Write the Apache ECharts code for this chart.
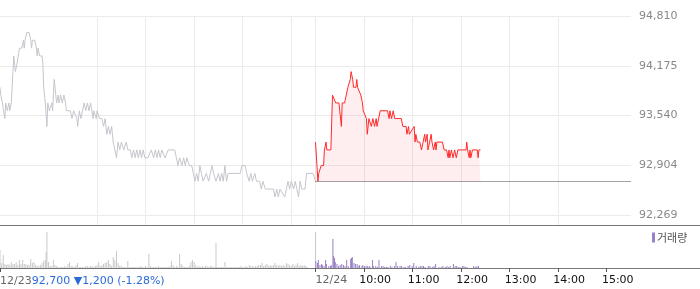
<!DOCTYPE html>
<html><head><meta charset="utf-8">
<script src="https://cdn.jsdelivr.net/npm/echarts@6/dist/echarts.min.js"></script>
<style>html,body{margin:0;padding:0;background:#fff}#c{width:700px;height:289px}</style>
</head><body><div id="c"></div>
<script>
// minutes after 09:00, price (KRW)
const prevLine = [[0,93900],[1,93800],[3,93700],[6,93500],[7,93700],[9,93600],[11,93700],[12,93600],[14,93700],[16,94100],[17,94300],[19,94100],[21,94200],[23,94200],[24,94400],[27,94400],[29,94500],[30,94400],[31,94500],[33,94600],[36,94600],[38,94500],[39,94400],[40,94500],[43,94500],[45,94400],[46,94300],[47,94400],[49,94300],[52,94300],[53,94200],[54,93900],[56,93700],[58,93400],[59,93700],[61,93600],[64,93700],[65,93600],[67,94000],[69,93800],[70,93700],[72,93800],[73,93700],[75,93800],[77,93700],[79,93800],[81,93700],[82,93600],[87,93600],[89,93500],[91,93600],[93,93600],[95,93500],[96,93400],[98,93600],[100,93500],[102,93600],[104,93700],[106,93600],[108,93700],[110,93600],[112,93700],[115,93500],[116,93600],[119,93500],[120,93600],[123,93500],[126,93500],[128,93400],[130,93500],[132,93300],[134,93400],[136,93300],[138,93400],[140,93200],[142,93200],[144,93000],[146,93200],[148,93100],[150,93200],[153,93100],[156,93200],[158,93100],[161,93100],[163,93000],[165,93100],[167,93000],[169,93100],[171,93000],[173,93100],[175,93000],[177,93100],[179,93000],[183,93000],[187,93100],[190,93000],[192,93100],[194,93000],[196,93100],[198,93000],[200,93100],[202,93100],[204,93000],[208,93100],[216,93100],[218,93000],[220,92900],[222,93000],[225,92900],[227,93000],[229,92900],[231,93000],[234,92900],[237,92900],[239,92800],[241,92700],[243,92800],[245,92700],[247,92900],[249,92800],[251,92700],[255,92800],[258,92700],[260,92800],[262,92900],[264,92800],[267,92700],[270,92800],[272,92700],[274,92800],[276,92700],[278,92900],[280,92700],[282,92800],[288,92800],[297,92800],[299,92900],[303,92900],[305,92800],[308,92700],[310,92800],[312,92700],[315,92800],[317,92700],[321,92700],[323,92600],[325,92700],[328,92600],[334,92600],[338,92600],[340,92500],[342,92600],[344,92500],[346,92600],[352,92500],[354,92600],[356,92700],[358,92600],[360,92700],[363,92600],[365,92700],[367,92600],[369,92500],[371,92700],[373,92600],[377,92600],[379,92800],[387,92800],[390,92700]];
const todayLine = [[0,93200],[3,92700],[4,92800],[7,92900],[10,92900],[11,93100],[13,93200],[14,93100],[19,93100],[21,93800],[23,93800],[25,93700],[29,93700],[30,93600],[32,93400],[33,93700],[36,93700],[38,93800],[40,93900],[41,93900],[43,94000],[44,94100],[45,94100],[46,94000],[47,93900],[50,93900],[51,94000],[52,93900],[54,93900],[56,93800],[58,93700],[59,93600],[61,93600],[63,93500],[64,93300],[66,93500],[67,93500],[69,93400],[71,93500],[73,93400],[75,93500],[76,93400],[78,93500],[80,93600],[89,93600],[91,93500],[92,93600],[94,93500],[96,93600],[98,93500],[106,93500],[108,93400],[112,93400],[113,93300],[115,93400],[116,93300],[122,93400],[123,93200],[124,93300],[126,93200],[129,93200],[131,93100],[133,93200],[135,93300],[136,93200],[138,93300],[139,93100],[141,93200],[143,93300],[144,93200],[146,93100],[148,93200],[149,93100],[150,93200],[157,93200],[159,93100],[162,93100],[164,93000],[165,93100],[166,93000],[168,93100],[170,93000],[172,93100],[174,93000],[176,93100],[186,93100],[187,93200],[188,93100],[190,93000],[191,93100],[192,93000],[194,93100],[200,93100],[201,93000],[202,93100],[204,93100]];
// minutes after 09:00, volume (thousand shares)
const prevVolume = [[0,18],[2,5],[4,13],[6,4],[8,3],[10,4],[12,3],[14,6],[16,4],[18,4],[20,6],[22,3],[24,8],[26,4],[28,8],[30,4],[32,4],[34,3],[36,3],[38,9],[40,5],[42,6],[44,3],[46,2],[48,2],[50,3],[52,5],[54,7],[56,8],[57,16],[58,36],[60,6],[62,2],[64,2],[66,8],[68,3],[70,2],[72,1],[74,1],[76,1],[78,1],[80,2],[82,1],[84,4],[86,6],[88,2],[90,2],[92,1],[94,3],[96,5],[98,1],[100,1],[102,1],[104,1],[106,2],[108,2],[110,1],[112,2],[114,2],[116,1],[118,2],[120,3],[122,6],[124,2],[126,3],[128,4],[130,5],[132,6],[134,8],[136,4],[138,2],[140,11],[142,8],[144,17],[146,5],[148,2],[150,2],[152,1],[154,1],[156,1],[158,7],[160,1],[162,1],[164,1],[166,1],[168,1],[170,1],[172,1],[174,2],[176,1],[178,1],[180,2],[182,1],[184,14],[186,2],[188,1],[190,1],[192,1],[194,1],[196,2],[198,1],[200,1],[202,1],[204,1],[206,1],[208,1],[210,2],[212,7],[214,3],[216,1],[218,2],[220,1],[222,14],[224,4],[226,2],[228,1],[230,1],[232,1],[234,2],[236,6],[238,8],[240,6],[242,3],[244,1],[246,2],[248,1],[250,2],[252,1],[254,2],[256,2],[258,1],[260,2],[262,2],[264,1],[266,1],[267,25],[268,1],[270,1],[272,1],[274,1],[276,1],[278,6],[280,1],[282,1],[284,1],[286,1],[288,1],[290,1],[292,1],[294,1],[296,1],[298,2],[300,1],[302,1],[304,2],[306,1],[308,3],[310,2],[312,2],[314,1],[316,2],[318,2],[320,3],[322,3],[324,5],[326,2],[328,3],[330,4],[332,2],[334,3],[336,2],[338,3],[340,5],[342,3],[344,2],[346,3],[348,2],[350,3],[352,2],[354,5],[356,4],[358,3],[360,2],[362,4],[364,2],[366,3],[368,5],[370,2],[372,3],[374,2],[376,3],[378,2],[380,1],[390,36]];
const todayVolume = [[0,7],[2,5],[3,8],[5,3],[7,4],[8,3],[10,2],[12,8],[13,4],[16,2],[18,2],[19,3],[21,29],[22,12],[23,10],[24,6],[26,4],[28,2],[30,3],[32,4],[34,3],[36,2],[38,8],[40,2],[43,9],[44,10],[45,11],[47,5],[49,4],[51,4],[53,2],[54,3],[57,2],[58,3],[60,2],[62,2],[64,2],[66,2],[67,1],[70,8],[71,2],[74,2],[76,1],[78,8],[81,2],[83,2],[85,1],[87,1],[89,1],[92,2],[94,1],[97,2],[99,6],[101,2],[104,2],[106,2],[109,1],[111,1],[114,2],[116,3],[119,2],[121,5],[124,2],[127,1],[129,2],[131,2],[133,2],[135,1],[139,2],[141,2],[144,1],[146,2],[148,4],[152,1],[155,1],[157,2],[160,1],[162,2],[164,1],[166,2],[170,4],[172,2],[174,2],[176,1],[178,1],[181,2],[183,2],[185,1],[187,1],[195,2],[197,1],[199,2],[201,2]];
const prevClose = 92700;
const yTicks = [92269, 92904, 93540, 94175, 94810];
const hourTicks = [450, 510, 570, 630, 690, 750];
const hourLabels = ['10:00', '11:00', '12:00', '13:00', '14:00', '15:00'];
const dayLabels = ['12/23', '12/24'];
const prevInfo = '92,700 ▼1,200 (-1.28%)';
const volumeName = '거래량';
const DAY = 390, SPAN = 780;

const chart = echarts.init(document.getElementById('c'), null, {renderer: 'canvas'});
const gridLineColor = '#ebebeb';
const labelFmt = v => {
  const t = yTicks.reduce((a, b) => Math.abs(b - v) < Math.abs(a - v) ? b : a);
  return t.toLocaleString('en-US');
};
const splitTicks = hourTicks.map(h => h - DAY).concat([DAY]).concat(hourTicks);
chart.setOption({
  animation: false,
  textStyle: {fontFamily: 'DejaVu Sans'},
  title: {
    left: 0, top: 276, padding: 0,
    text: '{d|' + dayLabels[0] + '}{b|' + prevInfo + '}',
    textStyle: {fontWeight: 'normal', rich: {
      d: {fontSize: 11, color: '#666', fontWeight: 'normal', fontFamily: 'DejaVu Sans'},
      b: {fontSize: 11, color: '#2a6ad8', fontWeight: 'normal', fontFamily: 'DejaVu Sans'}
    }}
  },
  legend: {
    data: [volumeName], left: 652, top: 232, padding: 0, icon: 'rect',
    itemWidth: 3, itemHeight: 10, selectedMode: false,
    textStyle: {fontSize: 11, color: '#555', fontFamily: 'Noto Sans CJK KR', padding: [0, 0, 0, -3]}
  },
  grid: [
    {left: 0, top: 16, width: 631, height: 199},
    {left: 0, top: 16, width: 631, height: 209},
    {left: 0, right: 0, top: 225, height: 43},
    {left: 0, top: 226, width: 631, height: 42}
  ],
  xAxis: [
    {gridIndex: 0, type: 'value', min: 0, max: SPAN, show: false},
    {gridIndex: 1, type: 'value', min: 0, max: SPAN, axisLine: {show: false}, axisLabel: {show: false},
     axisTick: {show: false, customValues: splitTicks},
     splitLine: {show: true, showMinLine: false, showMaxLine: false, lineStyle: {color: gridLineColor, width: 1}}},
    {gridIndex: 2, type: 'value', min: 0, max: 1, position: 'bottom', axisLine: {show: true, lineStyle: {color: '#777'}},
     axisTick: {show: false}, axisLabel: {show: false}, splitLine: {show: false}},
    {gridIndex: 2, type: 'value', min: 0, max: 1, position: 'top', axisLine: {show: true, lineStyle: {color: '#777'}},
     axisTick: {show: false}, axisLabel: {show: false}, splitLine: {show: false}},
    {gridIndex: 3, type: 'value', min: 0, max: SPAN, position: 'bottom', axisLine: {show: false}, splitLine: {show: false},
     axisTick: {show: true, length: 4, lineStyle: {color: '#555'}, customValues: [0, DAY].concat(hourTicks)},
     axisLabel: {
       show: true, margin: 7, customValues: hourTicks, align: 'center',
       formatter: v => '{t|' + hourLabels[hourTicks.indexOf(v)] + '}',
       rich: {t: {fontSize: 11, color: '#111', fontFamily: 'DejaVu Sans', padding: [0, 0, 0, 22]}}
     }},
    {gridIndex: 3, type: 'value', min: 0, max: SPAN, position: 'bottom', offset: 0, axisLine: {show: false}, splitLine: {show: false},
     axisTick: {show: false, customValues: [DAY]},
     axisLabel: {show: true, margin: 7, customValues: [DAY], align: 'left',
       formatter: () => dayLabels[1], fontSize: 11, color: '#666', fontFamily: 'DejaVu Sans'}}
  ],
  yAxis: [
    {gridIndex: 0, type: 'value', position: 'right', min: yTicks[0], max: yTicks[yTicks.length - 1],
     interval: (yTicks[yTicks.length - 1] - yTicks[0]) / (yTicks.length - 1),
     axisLine: {show: false}, axisTick: {show: false},
     axisLabel: {margin: 8, color: '#888', fontSize: 11, fontFamily: 'DejaVu Sans', formatter: labelFmt},
     splitLine: {show: true, lineStyle: {color: gridLineColor, width: 1}}},
    {gridIndex: 1, type: 'value', show: false},
    {gridIndex: 2, type: 'value', show: false},
    {gridIndex: 3, type: 'value', min: 0, max: 42, show: false}
  ],
  series: [
    {type: 'line', name: 'prev', xAxisIndex: 0, yAxisIndex: 0, data: prevLine, showSymbol: false, silent: true,
     lineStyle: {color: '#c4c6cc', width: 1}},
    {type: 'line', name: 'today', xAxisIndex: 0, yAxisIndex: 0, data: todayLine.map(([m, p]) => [DAY + m, p]),
     showSymbol: false, silent: true, lineStyle: {color: '#ff2a2a', width: 1}, itemStyle: {color: '#ff2a2a'},
     areaStyle: {origin: prevClose, color: 'rgba(248,80,100,0.14)'},
     markLine: {symbol: 'none', silent: true, label: {show: false},
       lineStyle: {type: [1, 1], color: '#444', width: 1},
       data: [[{coord: [DAY, prevClose]}, {coord: [SPAN, prevClose]}]]}},
    {type: 'bar', name: volumeName, xAxisIndex: 4, yAxisIndex: 3, barWidth: 1, silent: true,
     itemStyle: {color: '#9a80c8'},
     data: prevVolume.map(([m, v]) => ({value: [m, v], itemStyle: {color: '#c8c8c8'}}))
       .concat(todayVolume.map(([m, v]) => [DAY + m + 0.5, v]))}
  ]
});
</script></body></html>
